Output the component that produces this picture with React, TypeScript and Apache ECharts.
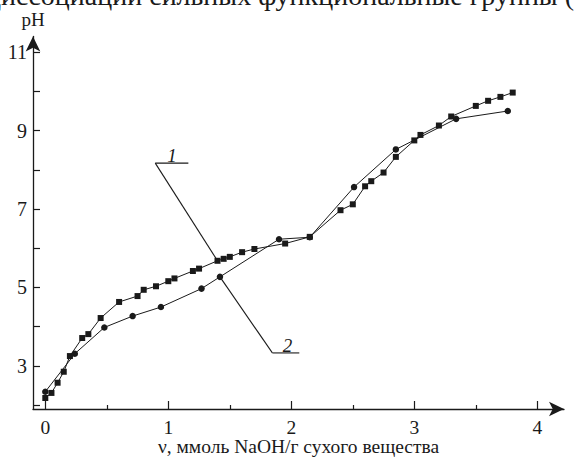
import React, { useEffect, useRef } from 'react';
import * as echarts from 'echarts';

// Curve 1 (squares): amount of NaOH, mmol/g and pH
const squareV = [0, 0.05, 0.1, 0.15, 0.2, 0.3, 0.35, 0.45, 0.6, 0.75, 0.8, 0.9, 1.0, 1.05, 1.2, 1.25, 1.4, 1.45, 1.5, 1.6, 1.7, 1.95, 2.15, 2.4, 2.5, 2.6, 2.65, 2.75, 2.85, 3.0, 3.05, 3.2, 3.3, 3.5, 3.6, 3.7, 3.8];
const squarePH = [2.18, 2.31, 2.57, 2.85, 3.25, 3.71, 3.81, 4.22, 4.63, 4.78, 4.94, 5.03, 5.16, 5.23, 5.42, 5.48, 5.68, 5.73, 5.78, 5.9, 5.98, 6.12, 6.29, 6.97, 7.12, 7.58, 7.71, 7.93, 8.33, 8.75, 8.89, 9.13, 9.36, 9.63, 9.76, 9.86, 9.97];

// Curve 2 (circles)
const circleV = [0, 0.24, 0.48, 0.71, 0.94, 1.27, 1.42, 1.9, 2.15, 2.51, 2.85, 3.34, 3.76];
const circlePH = [2.34, 3.31, 3.98, 4.27, 4.5, 4.97, 5.27, 6.23, 6.28, 7.56, 8.52, 9.3, 9.5];

const xMajorTicks = [0, 1, 2, 3, 4];
const xMinorTicks = [0.5, 1.5, 2.5, 3.5];
const yAllTicks = [2, 3, 4, 5, 6, 7, 8, 9, 10, 11];
const yLabelTicks = [3, 5, 7, 9, 11];

const xTitle = 'ν, ммоль NaOH/г сухого вещества';
const yTitle = 'pH';
const topText = 'диссоциации сильных функциональные группы (';
const curveLabels = ['1', '2'];

const INK = '#1a1a1a';
const FONT = 'Liberation Serif, serif';

export default function App() {
  const ref = useRef<HTMLDivElement>(null);

  useEffect(() => {
    document.body.style.margin = '0';
    const chart = echarts.init(ref.current!, null, { renderer: 'svg' });
    const xMin = -0.1;
    const xMax = 4.217;
    const yMin = 1.9;
    const yMax = 11.4;

    chart.setOption({
      animation: false,
      backgroundColor: '#ffffff',
      textStyle: { fontFamily: FONT, color: INK },
      grid: { left: 33, top: 36.5, width: 531, height: 372.5, containLabel: false, outerBoundsMode: 'none' },
      xAxis: [
        {
          type: 'value',
          min: xMin,
          max: xMax,
          name: xTitle,
          nameLocation: 'middle',
          nameGap: 28,
          nameMoveOverlap: false,
          nameTextStyle: { fontFamily: FONT, fontSize: 19.5, color: INK, lineHeight: 19 },
          axisLine: {
            show: true,
            onZero: false,
            symbol: ['none', 'arrow'],
            symbolSize: [11, 15],
            lineStyle: { color: INK, width: 1.3 },
          },
          axisTick: { show: true, inside: true, length: 8, customValues: xMajorTicks, lineStyle: { color: INK, width: 1.2 } },
          axisLabel: { show: true, customValues: xMajorTicks, margin: 9, fontFamily: FONT, fontSize: 19.5, lineHeight: 18, color: INK },
          splitLine: { show: false },
        },
        {
          type: 'value',
          min: xMin,
          max: xMax,
          position: 'bottom',
          axisLine: { show: false, onZero: false },
          axisTick: { show: true, inside: true, length: 4, customValues: xMinorTicks, lineStyle: { color: INK, width: 1.2 } },
          axisLabel: { show: false },
          splitLine: { show: false },
        },
      ],
      yAxis: {
        type: 'value',
        min: yMin,
        max: yMax,
        name: yTitle,
        nameLocation: 'end',
        nameGap: 8,
        nameMoveOverlap: false,
        nameTextStyle: { fontFamily: FONT, fontSize: 19, color: INK, align: 'center', verticalAlign: 'bottom' },
        axisLine: {
          show: true,
          onZero: false,
          symbol: ['none', 'arrow'],
          symbolSize: [11, 15],
          lineStyle: { color: INK, width: 1.3 },
        },
        axisTick: { show: true, inside: true, length: 7, customValues: yAllTicks, lineStyle: { color: INK, width: 1.2 } },
        axisLabel: { show: true, customValues: yLabelTicks, margin: 6, fontFamily: FONT, fontSize: 20, color: INK },
        splitLine: { show: false },
      },
      series: [
        {
          type: 'line',
          name: curveLabels[0],
          data: squareV.map((v, i) => [v, squarePH[i]]),
          symbol: 'rect',
          symbolSize: 6,
          showAllSymbol: true,
          itemStyle: { color: INK },
          lineStyle: { color: INK, width: 1 },
          z: 3,
        },
        {
          type: 'line',
          name: curveLabels[1],
          data: circleV.map((v, i) => [v, circlePH[i]]),
          symbol: 'circle',
          symbolSize: 6.5,
          showAllSymbol: true,
          itemStyle: { color: INK },
          lineStyle: { color: INK, width: 1 },
          z: 3,
        },
      ],
    });

    const px = (p: number[]) => chart.convertToPixel({ gridIndex: 0 }, p) as number[];
    // leader line anchors (data space)
    const t1 = px([squareV[16], squarePH[16]]);
    const a1 = px([0.894, 8.17]);
    const b1 = px([1.163, 8.17]);
    const l1 = px([1.03, 8.17]);
    const t2 = px([circleV[6], circlePH[6]]);
    const a2 = px([1.846, 3.33]);
    const b2 = px([2.065, 3.33]);
    const l2 = px([1.97, 3.33]);

    const ls = { stroke: INK, lineWidth: 1.1 };
    chart.setOption({
      graphic: [
        {
          type: 'text',
          x: 574,
          y: 9,
          style: { text: topText, font: `28px ${FONT}`, fill: INK, align: 'right', verticalAlign: 'bottom' },
        },
        { type: 'line', shape: { x1: a1[0], y1: a1[1], x2: b1[0], y2: b1[1] }, style: ls },
        { type: 'line', shape: { x1: a1[0], y1: a1[1], x2: t1[0], y2: t1[1] }, style: ls },
        {
          type: 'text',
          x: l1[0],
          y: l1[1] + 2,
          style: { text: curveLabels[0], font: `italic 19px ${FONT}`, fill: INK, align: 'center', verticalAlign: 'bottom' },
        },
        { type: 'line', shape: { x1: a2[0], y1: a2[1], x2: b2[0], y2: b2[1] }, style: ls },
        { type: 'line', shape: { x1: a2[0], y1: a2[1], x2: t2[0], y2: t2[1] }, style: ls },
        {
          type: 'text',
          x: l2[0],
          y: l2[1] + 2,
          style: { text: curveLabels[1], font: `italic 19px ${FONT}`, fill: INK, align: 'center', verticalAlign: 'bottom' },
        },
      ],
    });

    return () => chart.dispose();
  }, []);

  return <div ref={ref} style={{ width: 574, height: 457 }} />;
}
